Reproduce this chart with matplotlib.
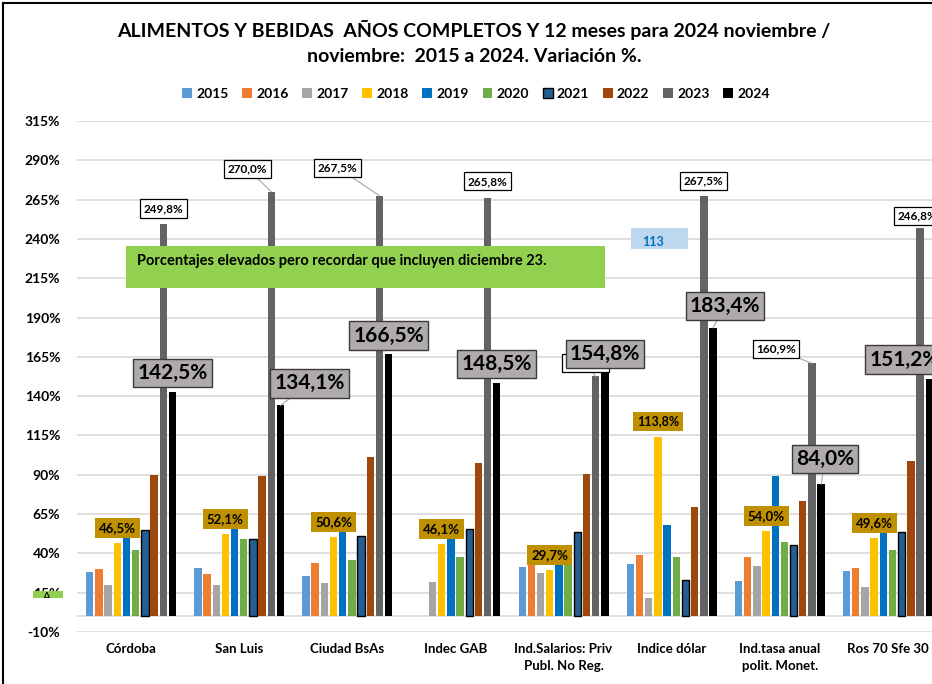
import matplotlib
matplotlib.use("Agg")
import matplotlib.pyplot as plt
import numpy as np
from matplotlib.patches import Rectangle
from matplotlib.lines import Line2D

plt.rcParams['font.family'] = ['Lato', 'DejaVu Sans']
plt.rcParams['font.weight'] = 'bold'

categories = ["Córdoba", "San Luis", "Ciudad BsAs", "Indec GAB",
              "Ind.Salarios: Priv\nPubl. No Reg.", "Indice dólar",
              "Ind.tasa anual\npolit. Monet.", "Ros 70 Sfe 30"]
years = ["2015", "2016", "2017", "2018", "2019", "2020", "2021", "2022", "2023", "2024"]

v2015 = [28.2, 30.7, 25.6, np.nan, 31.3, 33.3, 22.6, 28.8]
v2016 = [30.1, 26.9, 33.9, np.nan, 34.0, 39.0, 37.7, 30.9]
v2017 = [20.1, 19.7, 20.9, 21.8, 27.3, 11.6, 31.7, 18.8]
v2018 = [46.5, 52.1, 50.6, 46.1, 29.7, 113.8, 54.0, 49.6]
v2019 = [52.0, 57.0, 57.0, 53.0, 35.0, 58.3, 89.0, 53.0]
v2020 = [42.4, 49.4, 36.0, 37.5, 35.0, 37.7, 47.3, 41.9]
v2021 = [55.1, 49.4, 51.3, 55.3, 53.6, 23.3, 45.5, 53.6]
v2022 = [90.1, 89.0, 101.6, 97.5, 90.3, 69.3, 73.5, 98.5]
v2023 = [249.8, 270.0, 267.5, 265.8, 152.6, 267.5, 160.9, 246.8]
v2024 = [142.5, 134.1, 166.5, 148.5, 154.8, 183.4, 84.0, 151.2]
series = [v2015, v2016, v2017, v2018, v2019, v2020, v2021, v2022, v2023, v2024]

colors = ["#5B9BD5", "#ED7D31", "#A5A5A5", "#FFC000", "#0070C0",
          "#70AD47", "#255E91", "#9E480E", "#636363", "#000000"]

yticks = list(range(-10, 316, 25))

W, H = 932, 684
fig = plt.figure(figsize=(W / 100, H / 100), dpi=100)
ax = fig.add_axes([77 / W, 52 / H, 865 / W, 511 / H])

slot = 0.085
bw = 0.068
x = np.arange(len(categories))
bars = []
for j, (vals, c) in enumerate(zip(series, colors)):
    xs = x + (j - 4.5) * slot
    ec = "#000000" if j == 6 else "none"
    lw = 1.0 if j == 6 else 0
    ax.bar(xs, vals, width=bw, color=c, edgecolor=ec, linewidth=lw,
           label=years[j], zorder=3)
    bars.append(xs)

ax.set_xlim(-0.5, len(categories) - 0.5)
ax.set_ylim(-10, 315)
ax.set_yticks(yticks)
ax.set_yticklabels([f"{t}%" for t in yticks], fontsize=10, fontweight='bold')
ax.tick_params(axis='y', length=0, pad=12)
ax.set_xticks(x)
ax.set_xticklabels(categories, fontsize=9.5, fontweight='bold', linespacing=1.5)
ax.tick_params(axis='x', length=0, pad=8)
ax.grid(axis='y', color='#D9D9D9', linewidth=1.2, zorder=0)
ax.axhline(0, color='#D9D9D9', linewidth=1.2, zorder=1)
for s in ax.spines.values():
    s.set_visible(False)

def fmt(v):
    return f"{v:.1f}%".replace('.', ',')

# 2018 labels (gold)
for i, v in enumerate(v2018):
    ax.annotate(fmt(v), xy=(bars[3][i], v), xytext=(0, 16 if i == 5 else 15),
                textcoords='offset pixels', ha='center', va='center',
                fontsize=9 if i == 5 else 9.5, fontweight='bold', color='#000000', zorder=6,
                bbox=dict(boxstyle='square,pad=0.3', fc='#BF9000', ec='none'))

# 2023 labels (white)
off23 = [(0, 15), (-24, 23), (-42, 28), (0, 17), (-10, 13), (0, 15), (-36, 14), (-3, 12)]
for i, v in enumerate(v2023):
    dx, dy = off23[i]
    arr = dict(arrowstyle='-', color='#A6A6A6', lw=0.8, shrinkA=0, shrinkB=0) if (dx != 0 and i != 7) else None
    ax.annotate(fmt(v), xy=(bars[8][i], v), xytext=(dx, dy),
                textcoords='offset pixels', ha='center', va='center',
                fontsize=8.5, fontweight='bold', color='#000000', zorder=6,
                arrowprops=arr,
                bbox=dict(boxstyle='square,pad=0.3', fc='white', ec='#000000', lw=0.9))

# 2024 labels (gray, large)
off24 = [(0, 19), (29, 22), (0, 19), (0, 19), (0, 19), (12, 22), (4, 25), (-25, 19)]
for i, v in enumerate(v2024):
    dx, dy = off24[i]
    arr = dict(arrowstyle='-', color='#A6A6A6', lw=0.8, shrinkA=0, shrinkB=0) if (dx != 0 and i != 7) else None
    ax.annotate(fmt(v), xy=(bars[9][i], v), xytext=(dx, dy),
                textcoords='offset pixels', ha='center', va='center',
                fontsize=15, fontweight='bold', color='#000000', zorder=7,
                arrowprops=arr,
                bbox=dict(boxstyle='square,pad=0.2', fc='#AFABAB', ec='#3A3A3A', lw=1.0))

# Green note
fig.patches.append(Rectangle((126 / W, 1 - 288 / H), (605 - 126) / W, (288 - 246) / H,
                             transform=fig.transFigure, fc='#92D050', ec='none', zorder=8))
fig.text(137 / W, 1 - 261 / H, "Porcentajes elevados pero recordar que incluyen diciembre 23.",
         fontsize=10.5, fontweight='bold', color='#000000', va='center', ha='left', zorder=9)

# light blue note
fig.patches.append(Rectangle((631 / W, 1 - 249 / H), (688 - 631) / W, (249 - 228) / H,
                             transform=fig.transFigure, fc='#BDD7EE', ec='none', zorder=8))
fig.text(642 / W, 1 - 242 / H, "113", fontsize=9, fontweight='bold', color='#0070C0',
         va='center', ha='left', zorder=9)

# small green marker near 15%
fig.patches.append(Rectangle((33 / W, 1 - 598 / H), (63 - 33) / W, 7 / H,
                             transform=fig.transFigure, fc='#92D050', ec='none', zorder=8))
fig.text(47 / W, 1 - 595 / H, "Δ", fontsize=6, color='#000000', ha='center', va='center', zorder=9)

# Title
fig.text(474 / W, 1 - 30 / H, "ALIMENTOS Y BEBIDAS  AÑOS COMPLETOS Y 12 meses para 2024 noviembre /",
         fontsize=14, fontweight='bold', ha='center', va='center')
fig.text(474 / W, 1 - 56 / H, "noviembre:  2015 a 2024. Variación %.",
         fontsize=14, fontweight='bold', ha='center', va='center')

# Legend
handles = []
for j, c in enumerate(colors):
    ec = '#000000' if j == 6 else c
    handles.append(Rectangle((0, 0), 1, 1, fc=c, ec=ec, lw=1.0 if j == 6 else 0))
fig.legend(handles, years, loc='center', bbox_to_anchor=(476 / W, 1 - 94 / H), ncol=10,
           frameon=False, handlelength=0.7, handleheight=0.7,
           handletextpad=0.3, columnspacing=1.0, prop={'weight': 'bold', 'size': 10})

# Border
fig.add_artist(Line2D([3 / W, 3 / W], [0, 1 - 3 / H], transform=fig.transFigure, color='black', lw=1.5))
fig.add_artist(Line2D([3 / W, 1], [1 - 3 / H, 1 - 3 / H], transform=fig.transFigure, color='black', lw=1.5))

fig.savefig("out.png", dpi=100)
